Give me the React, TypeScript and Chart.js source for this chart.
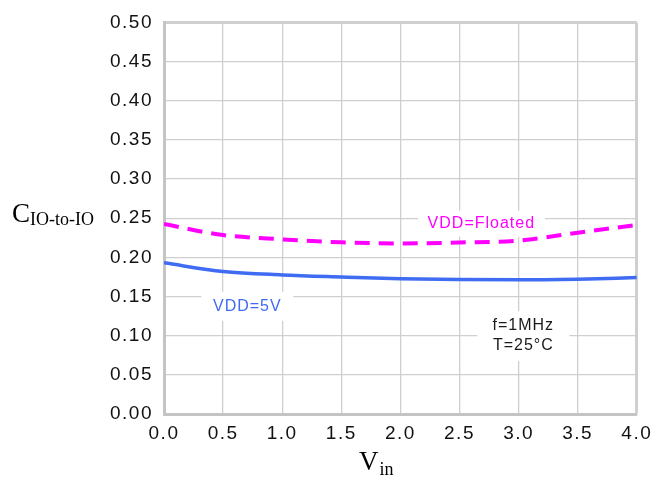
import React, { useEffect, useRef } from "react";
import { Chart, registerables } from "chart.js";

Chart.register(...registerables);

// ---- data ----
const vin = [0, 0.5, 1.0, 1.5, 2.0, 2.5, 3.0, 3.5, 4.0];
const cFloated = [0.2425, 0.2285, 0.223, 0.2192, 0.2178, 0.219, 0.2215, 0.2315, 0.2414];
const c5V = [0.193, 0.182, 0.1776, 0.175, 0.1728, 0.1716, 0.1713, 0.1722, 0.1742];
const xTickLabels = ["0.0", "0.5", "1.0", "1.5", "2.0", "2.5", "3.0", "3.5", "4.0"];
const yTickLabels = ["0.00", "0.05", "0.10", "0.15", "0.20", "0.25", "0.30", "0.35", "0.40", "0.45", "0.50"];
const noteFloated = ["VDD=Floated"];
const note5V = ["VDD=5V"];
const noteCond = ["f=1MHz", "T=25°C"];

// annotation anchors (data units) + styles
const notes = [
  { lines: noteFloated, x: 2.685, y: 0.2430, color: "#ff00ff", w: 127, h: 26 },
  { lines: note5V, x: 0.705, y: 0.1375, color: "#3f6cf2", w: 92, h: 29 },
  { lines: noteCond, x: 3.04, y: 0.0995, color: "#1a1a1a", w: 92, h: 50 },
];

const SANS = "'Liberation Sans', Arial, sans-serif";
const SERIF = "'Liberation Serif', 'Times New Roman', serif";

const decor = {
  id: "decor",
  beforeDraw(chart: any) {
    chart.ctx.letterSpacing = "1.5px";
  },
  beforeDatasetsDraw(chart: any) {
    const ctx = chart.ctx;
    ctx.letterSpacing = "0px";
    ctx.save();
    ctx.letterSpacing = "1px";
    const xs = chart.scales.x;
    const ys = chart.scales.y;
    notes.forEach((n) => {
      const cx = xs.getPixelForValue(n.x);
      const cy = ys.getPixelForValue(n.y);
      ctx.fillStyle = "#ffffff";
      ctx.fillRect(cx - n.w / 2, cy - n.h / 2, n.w, n.h);
      ctx.fillStyle = n.color;
      ctx.font = `16px ${SANS}`;
      ctx.textAlign = "center";
      ctx.textBaseline = "middle";
      n.lines.forEach((t, i) => {
        ctx.fillText(t, cx, cy + (i - (n.lines.length - 1) / 2) * 20);
      });
    });
    ctx.restore();
  },
  afterDraw(chart: any) {
    const ctx = chart.ctx;
    ctx.save();
    ctx.letterSpacing = "0px";
    ctx.fillStyle = "#000000";
    ctx.textAlign = "left";
    ctx.textBaseline = "alphabetic";
    // Y title: C_IO-to-IO
    ctx.font = `27px ${SERIF}`;
    ctx.fillText("C", 12, 222);
    const cw = ctx.measureText("C").width;
    ctx.font = `18px ${SERIF}`;
    ctx.fillText("IO-to-IO", 12 + cw, 225);
    // X title: V_in
    ctx.font = `27px ${SERIF}`;
    ctx.fillText("V", 359, 470);
    const vw = ctx.measureText("V").width;
    ctx.font = `18px ${SERIF}`;
    ctx.fillText("in", 359 + vw + 1, 475);
    ctx.restore();
  },
};

const GRID = "#cfcfcf";
const EDGE = "#c4c4c4";

export default function App() {
  const ref = useRef<HTMLCanvasElement | null>(null);

  useEffect(() => {
    if (!ref.current) return;
    const chart = new Chart(ref.current, {
      type: "line",
      data: {
        datasets: [
          {
            label: "VDD=Floated",
            data: vin.map((x, i) => ({ x, y: cFloated[i] })),
            borderColor: "#ff00ff",
            borderWidth: 4,
            borderDash: [15, 9],
            pointRadius: 0,
            tension: 0.4,
            cubicInterpolationMode: "monotone",
            fill: false,
          },
          {
            label: "VDD=5V",
            data: vin.map((x, i) => ({ x, y: c5V[i] })),
            borderColor: "#3f6cf2",
            borderWidth: 3.5,
            pointRadius: 0,
            tension: 0.4,
            cubicInterpolationMode: "monotone",
            fill: false,
          },
        ],
      },
      options: {
        responsive: false,
        animation: false,
        events: [],
        layout: { padding: { left: 0, right: 18, top: 17, bottom: 0 } },
        plugins: {
          legend: { display: false },
          tooltip: { enabled: false },
          title: { display: false },
        },
        scales: {
          x: {
            type: "linear",
            min: 0,
            max: 4,
            afterFit: (s: any) => {
              s.height = 66;
            },
            ticks: {
              stepSize: 0.5,
              padding: 8,
              color: "#111111",
              font: { family: SANS, size: 19 },
              maxRotation: 0,
              autoSkip: false,
              callback: (v: any) => {
                const i = Math.round(Number(v) / 0.5);
                return xTickLabels[i] ?? "";
              },
            },
            grid: {
              color: GRID,
              drawTicks: false,
              lineWidth: (c: any) => (c.tick && Math.abs(c.tick.value - 4) < 1e-9 ? 3 : 1.3),
            },
            border: { color: EDGE, width: 3 },
          },
          y: {
            type: "linear",
            min: 0,
            max: 0.5,
            afterFit: (s: any) => {
              s.width = 164;
            },
            ticks: {
              stepSize: 0.05,
              padding: 11,
              color: "#111111",
              font: { family: SANS, size: 19 },
              autoSkip: false,
              callback: (v: any) => {
                const i = Math.round(Number(v) / 0.05);
                return yTickLabels[i] ?? "";
              },
            },
            grid: {
              color: GRID,
              drawTicks: false,
              lineWidth: (c: any) => (c.tick && Math.abs(c.tick.value - 0.5) < 1e-9 ? 3 : 1.3),
            },
            border: { color: EDGE, width: 3 },
          },
        },
      },
      plugins: [decor],
    } as any);
    return () => chart.destroy();
  }, []);

  return (
    <canvas
      ref={ref}
      width={658}
      height={480}
      style={{ position: "absolute", left: 0, top: 0, width: 658, height: 480, display: "block" }}
    />
  );
}
